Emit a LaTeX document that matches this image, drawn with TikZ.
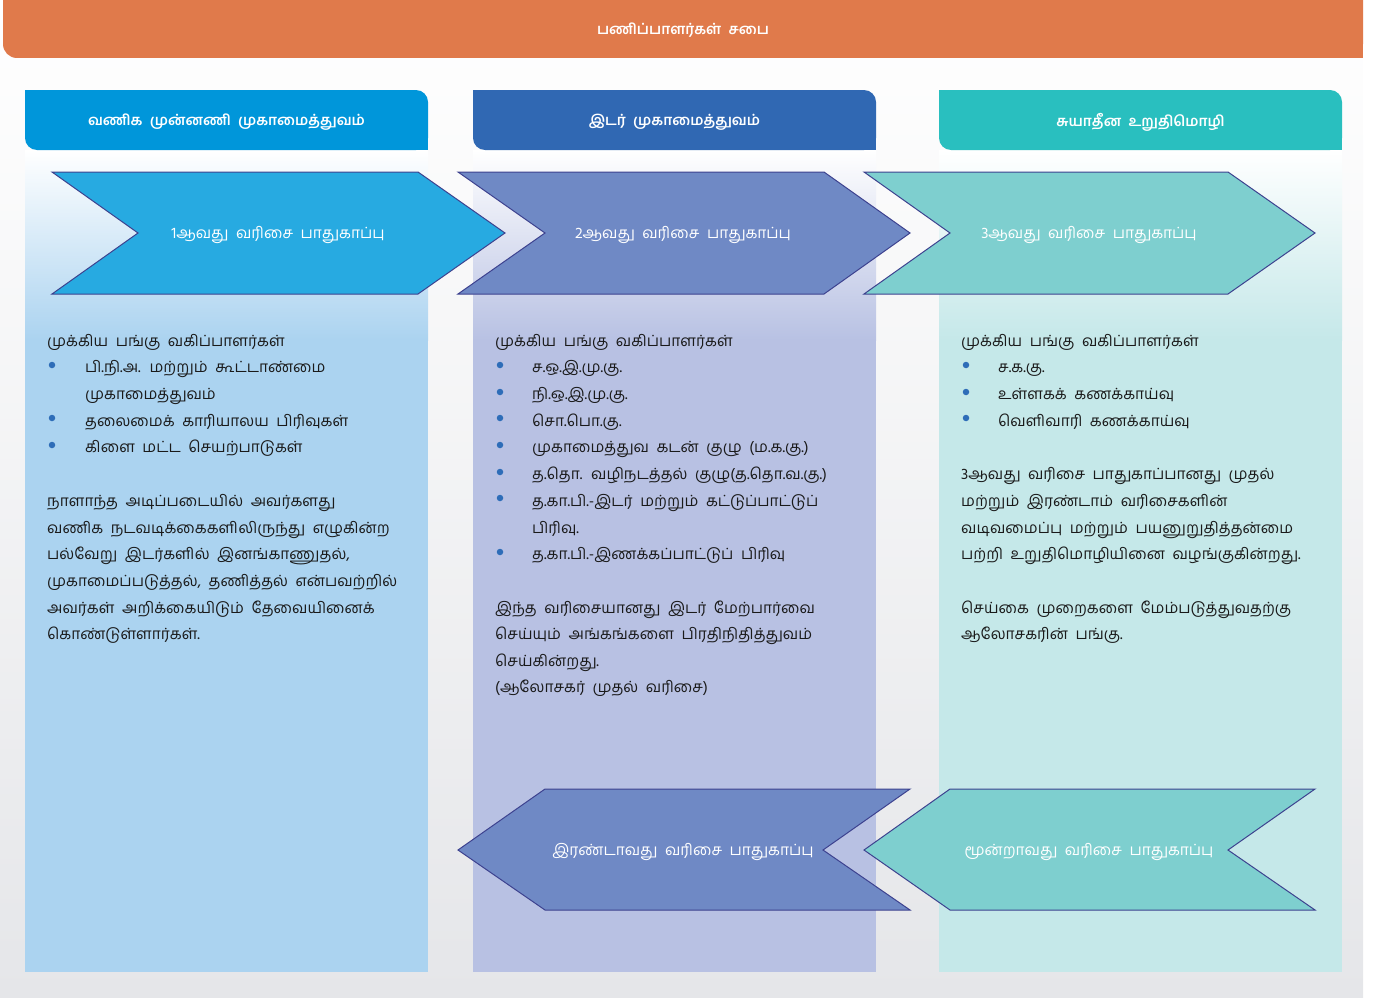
\documentclass[tikz,border=0pt]{standalone}
\usepackage{fontspec}
\newfontfamily\tam[Script=Tamil,WordSpace=2]{Hind Madurai}
\definecolor{bgbot}{HTML}{E5E6E9}
\definecolor{orng}{HTML}{E07A4B}
\definecolor{hA}{HTML}{0096DA}
\definecolor{hB}{HTML}{3068B3}
\definecolor{hC}{HTML}{29BFBF}
\definecolor{bA}{HTML}{ABD3F0}
\definecolor{bB}{HTML}{B8C1E3}
\definecolor{bC}{HTML}{C5E8E9}
\definecolor{cA}{HTML}{27AAE1}
\definecolor{cB}{HTML}{6F89C5}
\definecolor{cC}{HTML}{7ECFCF}
\definecolor{chline}{HTML}{3D428F}
\definecolor{bul}{HTML}{2E6DB8}
\definecolor{ink}{HTML}{1A1A1A}
\newcommand\Tline[4]{\node[txt] (#1) at (#2,#3) {#4};}
\newcommand\Tbul[3]{\node[bulletdot] (#1) at (#2,#3) {};}
\tikzset{
  txt/.style={anchor=base west, inner sep=0pt, text=ink, font=\tam\fontsize{15.5}{18}\selectfont},
  bulletdot/.style={circle, fill=bul, inner sep=0pt, minimum size=6.5pt},
  chev/.style={draw=chline, line width=1pt},
  ctext/.style={text=white, inner sep=0pt, font=\tam\fontsize{15.5}{18}\selectfont},
  htext/.style={text=white, inner sep=0pt, font=\tam\bfseries\fontsize{14.5}{17}\selectfont},
}
\begin{document}
\begin{tikzpicture}[x=1pt,y=-1pt]
\useasboundingbox (0,0) rectangle (1376,998);
% background
\shade[top color=white, bottom color=bgbot] (0,0) rectangle (1363,998);
% orange bar
\fill[orng, rounded corners=14pt] (3,-20) rectangle (1363,58);
\fill[orng] (1343,38) rectangle (1363,58);
\node[htext] (board) at (683,30) {பணிப்பாளர்கள் சபை};
% column bodies
\foreach \x/\c in {25/bA,473/bB,939/bC}{
  \shade[top color=white, bottom color=\c] (\x,150) rectangle (\x+403,340);
  \fill[\c] (\x,339.5) rectangle (\x+403,972);
}
% column headers
\foreach \x/\c in {25/hA,473/hB,939/hC}{
  \fill[\c, rounded corners=12pt] (\x,90) rectangle (\x+403,150);
  \fill[\c] (\x,90) rectangle (\x+20,110);
  \fill[\c] (\x+383,130) rectangle (\x+403,150);
}
\node[htext] (hdA) at (226.5,122) {வணிக முன்னணி முகாமைத்துவம்};
\node[htext] (hdB) at (674.5,122) {இடர் முகாமைத்துவம்};
\node[htext] (hdC) at (1140.5,122) {சுயாதீன உறுதிமொழி};
% top chevrons
\filldraw[chev, fill=cA] (52,172) -- (418,172) -- (505,233) -- (418,294) -- (52,294) -- (138,233) -- cycle;
\filldraw[chev, fill=cB] (458,172) -- (824,172) -- (910,233) -- (824,294) -- (458,294) -- (545,233) -- cycle;
\filldraw[chev, fill=cC] (864,172) -- (1228,172) -- (1315,233) -- (1228,294) -- (864,294) -- (950,233) -- cycle;
\node[ctext] (chA) at (278,235) {1ஆவது வரிசை பாதுகாப்பு};
\node[ctext] (chB) at (683,235) {2ஆவது வரிசை பாதுகாப்பு};
\node[ctext] (chC) at (1089,235) {3ஆவது வரிசை பாதுகாப்பு};
% bottom chevrons
\filldraw[chev, fill=cB] (545,789) -- (910,789) -- (823,850) -- (910,910) -- (545,910) -- (458,850) -- cycle;
\filldraw[chev, fill=cC] (950,789) -- (1315,789) -- (1228,850) -- (1315,910) -- (950,910) -- (864,850) -- cycle;
\node[ctext] (bcB) at (683,852) {இரண்டாவது வரிசை பாதுகாப்பு};
\node[ctext] (bcC) at (1089,852) {மூன்றாவது வரிசை பாதுகாப்பு};
% column 1 text
\Tline{a1}{47}{346}{முக்கிய பங்கு வகிப்பாளர்கள்}
\Tbul{ab1}{52}{365}\Tline{a2}{85}{372}{பி.நி.அ. மற்றும் கூட்டாண்மை}
\Tline{a3}{85}{399}{முகாமைத்துவம்}
\Tbul{ab2}{52}{418}\Tline{a4}{85}{426}{தலைமைக் காரியாலய பிரிவுகள்}
\Tbul{ab3}{52}{445}\Tline{a5}{85}{452}{கிளை மட்ட செயற்பாடுகள்}
\Tline{a6}{47}{506}{நாளாந்த அடிப்படையில் அவர்களது}
\Tline{a7}{47}{533}{வணிக நடவடிக்கைகளிலிருந்து எழுகின்ற}
\Tline{a8}{47}{559}{பல்வேறு இடர்களில் இனங்காணுதல்,}
\Tline{a9}{47}{586}{முகாமைப்படுத்தல், தணித்தல் என்பவற்றில்}
\Tline{a10}{47}{613}{அவர்கள் அறிக்கையிடும் தேவையினைக்}
\Tline{a11}{47}{639}{கொண்டுள்ளார்கள்.}
% column 2 text
\Tline{b1}{495}{346}{முக்கிய பங்கு வகிப்பாளர்கள்}
\Tbul{bb1}{500}{365}\Tline{b2}{532}{372}{ச.ஒ.இ.மு.கு.}
\Tbul{bb2}{500}{392}\Tline{b3}{532}{399}{நி.ஒ.இ.மு.கு.}
\Tbul{bb3}{500}{418}\Tline{b4}{532}{426}{சொ.பொ.கு.}
\Tbul{bb4}{500}{445}\Tline{b5}{532}{452}{முகாமைத்துவ கடன் குழு (ம.க.கு.)}
\Tbul{bb5}{500}{472}\Tline{b6}{532}{479}{த.தொ. வழிநடத்தல் குழு(த.தொ.வ.கு.)}
\Tbul{bb6}{500}{498}\Tline{b7}{532}{506}{த.கா.பி.-இடர் மற்றும் கட்டுப்பாட்டுப்}
\Tline{b8}{532}{533}{பிரிவு.}
\Tbul{bb7}{500}{552}\Tline{b9}{532}{559}{த.கா.பி.-இணக்கப்பாட்டுப் பிரிவு}
\Tline{b10}{495}{613}{இந்த வரிசையானது இடர் மேற்பார்வை}
\Tline{b11}{495}{639}{செய்யும் அங்கங்களை பிரதிநிதித்துவம்}
\Tline{b12}{495}{666}{செய்கின்றது.}
\Tline{b13}{495}{692}{(ஆலோசகர் முதல் வரிசை)}
% column 3 text
\Tline{c1}{961}{346}{முக்கிய பங்கு வகிப்பாளர்கள்}
\Tbul{cb1}{966}{365}\Tline{c2}{998}{372}{ச.க.கு.}
\Tbul{cb2}{966}{392}\Tline{c3}{998}{399}{உள்ளகக் கணக்காய்வு}
\Tbul{cb3}{966}{418}\Tline{c4}{998}{426}{வெளிவாரி கணக்காய்வு}
\Tline{c5}{961}{479}{3ஆவது வரிசை பாதுகாப்பானது முதல்}
\Tline{c6}{961}{506}{மற்றும் இரண்டாம் வரிசைகளின்}
\Tline{c7}{961}{533}{வடிவமைப்பு மற்றும் பயனுறுதித்தன்மை}
\Tline{c8}{961}{559}{பற்றி உறுதிமொழியினை வழங்குகின்றது.}
\Tline{c9}{961}{613}{செய்கை முறைகளை மேம்படுத்துவதற்கு}
\Tline{c10}{961}{639}{ஆலோசகரின் பங்கு.}
\end{tikzpicture}
\end{document}
